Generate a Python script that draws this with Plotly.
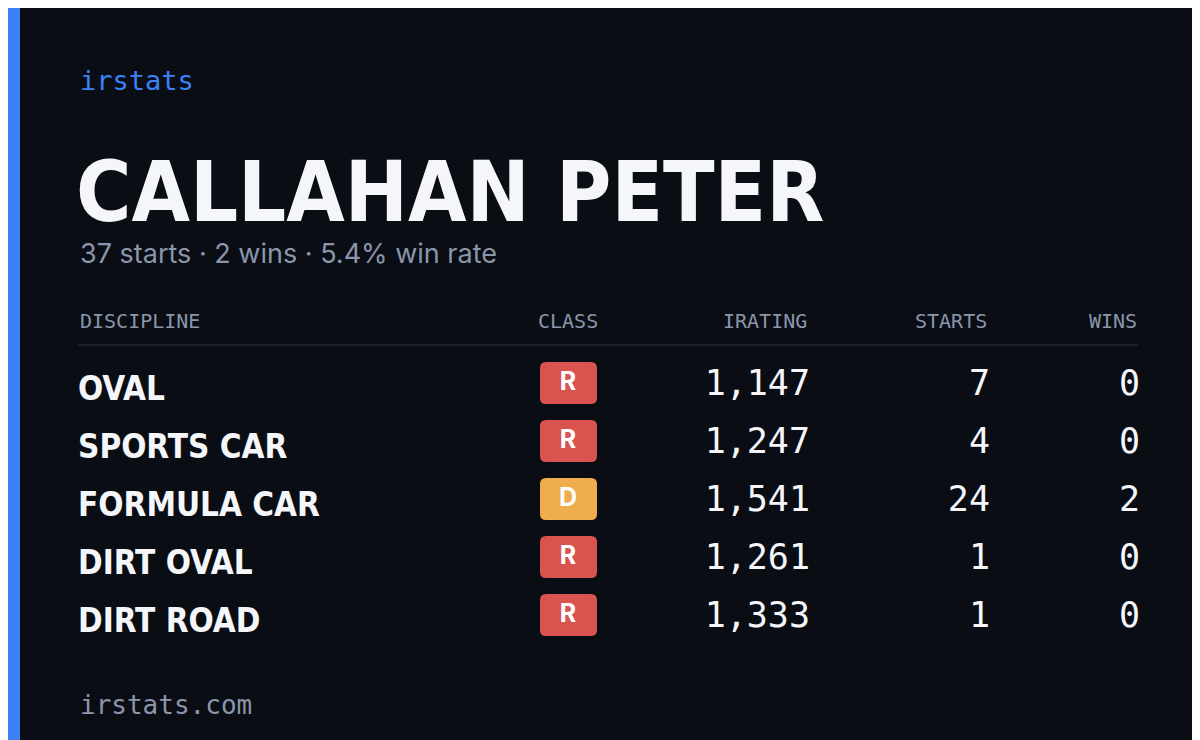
import plotly.graph_objects as go

disciplines = ["OVAL", "SPORTS CAR", "FORMULA CAR", "DIRT OVAL", "DIRT ROAD"]
classes = ["R", "R", "D", "R", "R"]
iratings = [1147, 1247, 1541, 1261, 1333]
starts = [7, 4, 24, 1, 1]
wins = [0, 0, 2, 0, 0]
headers = ["DISCIPLINE", "CLASS", "IRATING", "STARTS", "WINS"]
player = "CALLAHAN PETER"
subtitle = "37 starts · 2 wins · 5.4% win rate"

BG = "#0a0d14"
BLUE = "#3b82f6"
GRAY = "#8a96aa"
WHITE = "#f5f6fa"
class_colors = {"R": "#d9534f", "D": "#f0ad4e"}
COND = "Liberation Sans Narrow, DejaVu Sans Condensed, Roboto, sans-serif"
MONO = "DejaVu Sans Mono, Liberation Mono, monospace"

row_y = [375 + 58 * i for i in range(len(disciplines))]

fig = go.Figure()
# discipline names
fig.add_trace(go.Scatter(x=[70] * 5, y=[y + 9 for y in row_y], text=disciplines, mode="text",
                         textposition="middle right",
                         textfont=dict(family=COND, size=33, color=WHITE, weight="bold")))
# numbers
fmt = lambda v: f"{v:,}"
for xs, vals in [(800, [fmt(v) for v in iratings]), (980, [str(v) for v in starts]), (1130, [str(v) for v in wins])]:
    fig.add_trace(go.Scatter(x=[xs + 2] * 5, y=[y + 3 for y in row_y], text=vals, mode="text",
                             textposition="middle left",
                             textfont=dict(family=MONO, size=35, color=WHITE)))
# badges text
fig.add_trace(go.Scatter(x=[560] * 5, y=[y + 1 for y in row_y], text=classes, mode="text",
                         textposition="middle center",
                         textfont=dict(family="Inter, Noto Sans, sans-serif", size=25, color="white", weight="bold")))

shapes = [dict(type="rect", x0=0, x1=12, y0=0, y1=740, fillcolor=BLUE, line_width=0, layer="below"),
          dict(type="line", x0=70, x1=1130, y0=337, y1=337, line=dict(color="#1c212c", width=2))]
for y, c in zip(row_y, classes):
    x0, x1, y0, y1, r = 532, 589, y - 21, y + 21, 6
    path = (f"M{x0+r},{y0} L{x1-r},{y0} Q{x1},{y0} {x1},{y0+r} L{x1},{y1-r} Q{x1},{y1} {x1-r},{y1} "
            f"L{x0+r},{y1} Q{x0},{y1} {x0},{y1-r} L{x0},{y0+r} Q{x0},{y0} {x0+r},{y0} Z")
    shapes.append(dict(type="path", path=path, fillcolor=class_colors[c], line_width=0, layer="below"))

ann = [
    dict(x=70, y=72, text="irstats", xanchor="left", font=dict(family=MONO, size=27, color=BLUE)),
    dict(x=66, y=184, text=f"<b>{player}</b>", xanchor="left", font=dict(family=COND, size=84, color=WHITE)),
    dict(x=70, y=245, text=subtitle, xanchor="left", font=dict(family="Inter, Noto Sans, sans-serif", size=27, color=GRAY)),
    dict(x=70, y=697, text="irstats.com", xanchor="left", font=dict(family=MONO, size=26, color=GRAY)),
]
hx = [(70, "left"), (560, "center"), (801, "right"), (981, "right"), (1131, "right")]
for (x, a), h in zip(hx, headers):
    ann.append(dict(x=x, y=313, text=h, xanchor=a, font=dict(family=MONO, size=20, color=GRAY)))
for a in ann:
    a.update(xref="x", yref="y", showarrow=False, yanchor="middle")

fig.update_layout(width=1200, height=740, margin=dict(l=0, r=0, t=0, b=0),
                  paper_bgcolor=BG, plot_bgcolor=BG, showlegend=False,
                  xaxis=dict(range=[0, 1200], visible=False, fixedrange=True),
                  yaxis=dict(range=[740, 0], visible=False, fixedrange=True),
                  shapes=shapes, annotations=ann)
fig.write_html("out.html", config={"displayModeBar": False})
